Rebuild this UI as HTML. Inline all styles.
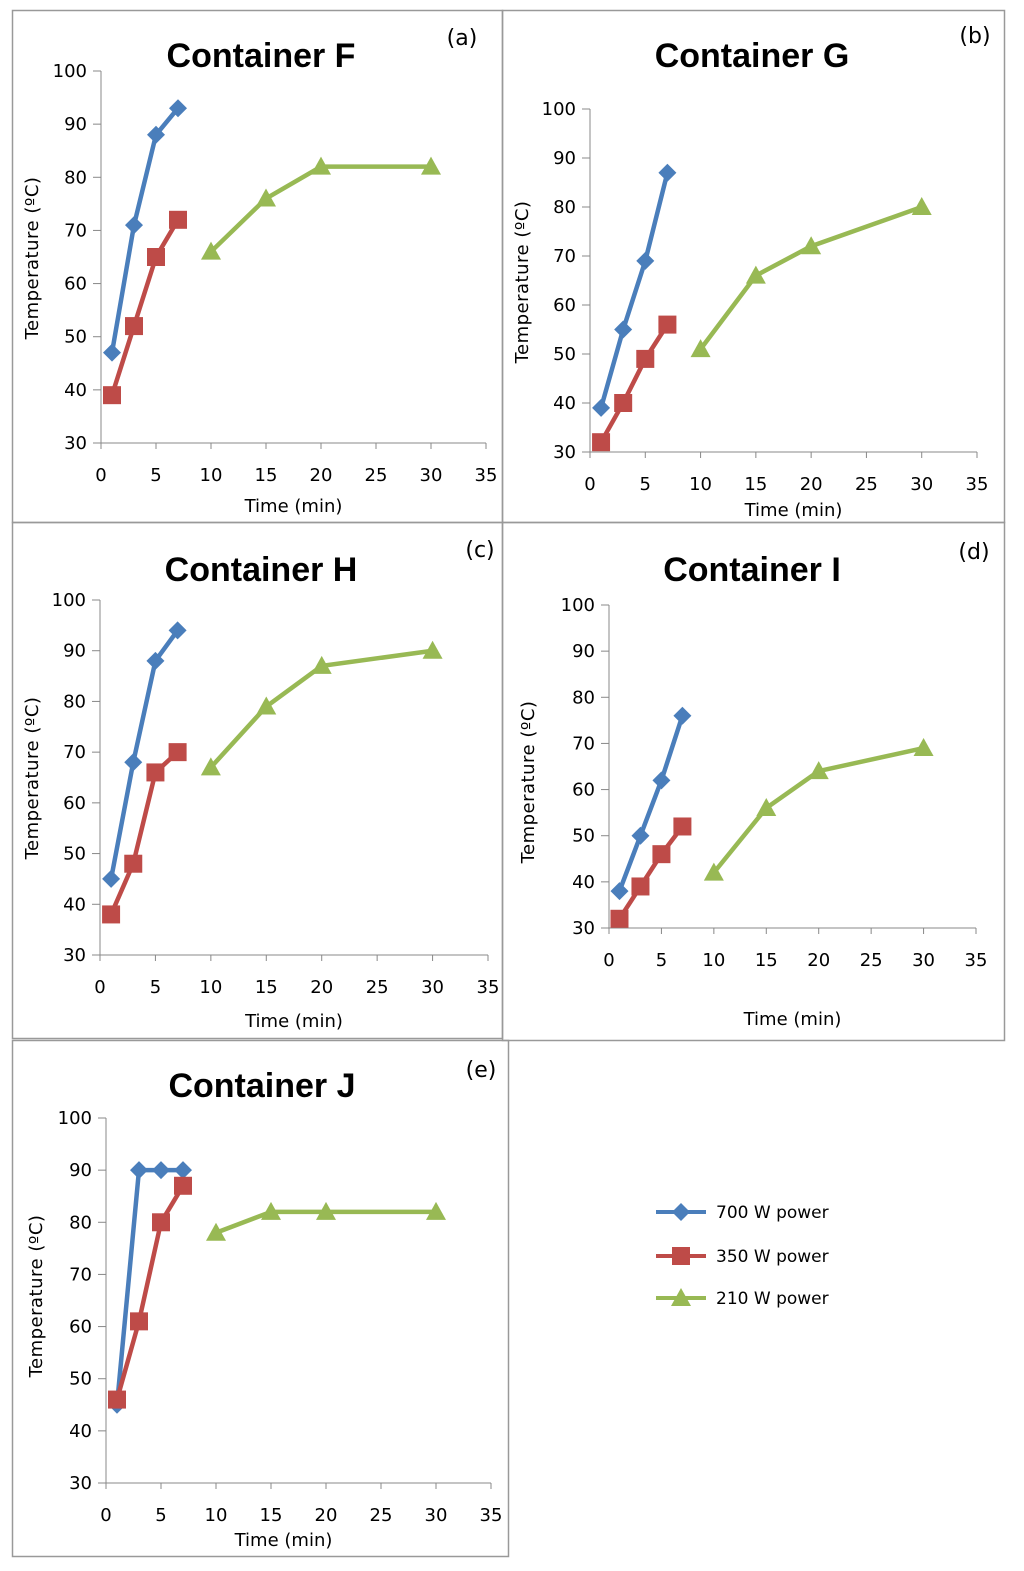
<!DOCTYPE html>
<html><head><meta charset="utf-8"><style>
body{margin:0;background:#fff;width:1024px;height:1566px;overflow:hidden;font-family:"Liberation Sans","DejaVu Sans",sans-serif}
svg text{font-family:"DejaVu Sans","Liberation Sans",sans-serif}
</style></head><body>
<svg id="chart" width="1024" height="1566" xmlns="http://www.w3.org/2000/svg"></svg>
<script>
const xTicks=[0,5,10,15,20,25,30,35];
const yTicks=[30,40,50,60,70,80,90,100];
const blueX=[1,3,5,7];
const redX=[1,3,5,7];
const greenX=[10,15,20,30];
const titles=["Container F","Container G","Container H","Container I","Container J"];
const tags=["(a)","(b)","(c)","(d)","(e)"];
const blueVals=[[47,71,88,93],[39,55,69,87],[45,68,88,94],[38,50,62,76],[45,90,90,90]];
const redVals=[[39,52,65,72],[32,40,49,56],[38,48,66,70],[32,39,46,52],[46,61,80,87]];
const greenVals=[[66,76,82,82],[51,66,72,80],[67,79,87,90],[42,56,64,69],[78,82,82,82]];
const legendLabels=["700 W power","350 W power","210 W power"];
const colors=["#4a7ebb","#be4b48","#98b954"];
const panels=[
{bx:12,by:10,bw:490,bh:512,x0:101,x1:486,yt:71,yb:443,tx:261,ty:67,gx:462,gy:45,xly:512,yly:258,ylx:38},
{bx:502,by:10,bw:502,bh:512,x0:590,x1:977,yt:109,yb:452,tx:752,ty:67,gx:975,gy:43,xly:516,yly:282,ylx:528},
{bx:12,by:522,bw:490,bh:516,x0:100,x1:488,yt:600,yb:955,tx:261,ty:581,gx:480,gy:557,xly:1027,yly:778,ylx:38},
{bx:502,by:522,bw:502,bh:518,x0:609,x1:976,yt:605,yb:928,tx:752,ty:581,gx:974,gy:559,xly:1025,yly:782,ylx:534},
{bx:12,by:1040,bw:496,bh:516,x0:106,x1:491,yt:1118,yb:1483,tx:262,ty:1097,gx:481,gy:1077,xly:1546,yly:1296,ylx:42}
];
const svg=document.getElementById('chart');
const NS="http://www.w3.org/2000/svg";
function mk(tag,attrs,parent){const e=document.createElementNS(NS,tag);for(const k in attrs)e.setAttribute(k,attrs[k]);(parent||svg).appendChild(e);return e;}
function marker(g,kind,cx,cy,c){
 if(kind===0)return mk('polygon',{points:`${cx},${cy-9} ${cx+9},${cy} ${cx},${cy+9} ${cx-9},${cy}`,fill:c},g);
 if(kind===1)return mk('rect',{x:cx-9,y:cy-9,width:18,height:18,fill:c},g);
 return mk('polygon',{points:`${cx},${cy-10} ${cx+10},${cy+8} ${cx-10},${cy+8}`,fill:c},g);
}
panels.forEach((p,i)=>{
 const g=mk('g',{});
 
 
 const border=mk('rect',{x:p.bx+0.5,y:p.by+0.5,width:p.bw,height:p.bh,fill:'none',stroke:'#999','stroke-width':1.5},g);
 
 
 const sx=v=>p.x0+(v-0)/35*(p.x1-p.x0);
 const sy=v=>p.yb-(v-30)/70*(p.yb-p.yt);
 const ax=mk('g',{},g);
 
 
 mk('line',{x1:p.x0,y1:p.yt,x2:p.x0,y2:p.yb,stroke:'#888','stroke-width':1},ax);
 mk('line',{x1:p.x0,y1:p.yb,x2:p.x1,y2:p.yb,stroke:'#888','stroke-width':1},ax);
 yTicks.forEach(t=>{const y=sy(t);mk('line',{x1:p.x0-8,y1:y,x2:p.x0,y2:y,stroke:'#888'},ax);
  const tt=mk('text',{x:p.x0-14,y:y+6,'text-anchor':'end','font-size':18,fill:'#000'},ax);tt.textContent=t;
  });
 xTicks.forEach(t=>{const x=sx(t);mk('line',{x1:x,y1:p.yb,x2:x,y2:p.yb+6,stroke:'#888'},ax);
  const tt=mk('text',{x:x,y:p.yb+38,'text-anchor':'middle','font-size':18,fill:'#000'},ax);tt.textContent=t;
  });
 const ti=mk('text',{x:p.tx,y:p.ty,'text-anchor':'middle','font-size':34,'font-weight':'bold',fill:'#000',style:'font-family:"Liberation Sans",sans-serif'},g);ti.textContent=titles[i];
 
 const tg=mk('text',{x:p.gx,y:p.gy,'text-anchor':'middle','font-size':22,fill:'#000'},g);tg.textContent=tags[i];
 
 const xl=mk('text',{x:(p.x0+p.x1)/2+(i==1?10:(i==4?-15:0)),y:p.xly,'text-anchor':'middle','font-size':18,fill:'#000'},g);xl.textContent='Time (min)';
 
 const yl=mk('text',{x:0,y:0,'text-anchor':'middle','font-size':18,fill:'#000','letter-spacing':'0.5',transform:`translate(${p.ylx},${p.yly}) rotate(-90)`},g);yl.textContent='Temperature (ºC)';
 
 const series=[[blueX,blueVals[i]],[redX,redVals[i]],[greenX,greenVals[i]]];
 series.forEach((s,k)=>{
  const sg=mk('g',{},g);
  
  
  const pts=s[0].map((x,j)=>sx(x)+','+sy(s[1][j])).join(' ');
  mk('polyline',{points:pts,fill:'none',stroke:colors[k],'stroke-width':4.5},sg);
  s[0].forEach((x,j)=>{const m=marker(sg,k,sx(x),sy(s[1][j]),colors[k]);
   });
 });
});
const lg=mk('g',{});


const legY=[1212,1256,1298];
legendLabels.forEach((l,k)=>{
 const e=mk('g',{},lg);
 
 
 mk('line',{x1:656,y1:legY[k],x2:706,y2:legY[k],stroke:colors[k],'stroke-width':4},e);
 marker(e,k,681,legY[k],colors[k]);
 const t=mk('text',{x:716,y:legY[k]+6,'font-size':17,fill:'#000'},e);t.textContent=l;
});
</script>
</body></html>
